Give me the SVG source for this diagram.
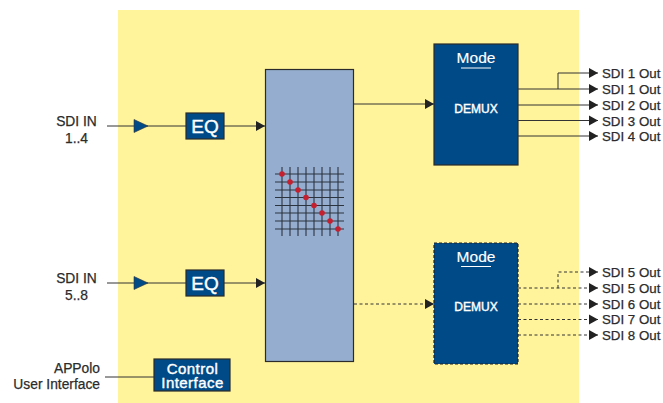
<svg xmlns="http://www.w3.org/2000/svg" width="663" height="403" viewBox="0 0 663 403">
<style>
text{font-family:"Liberation Sans",Arial,sans-serif}
.lbl{font-size:13.800px;fill:#2b2b2b;stroke:#2b2b2b;stroke-width:.25}
.out{font-size:13.300px;fill:#2b2b2b;stroke:#2b2b2b;stroke-width:.25}
.blue{fill:#004a87;stroke:#2b2b2b;stroke-width:1.200}
.w{fill:#fff;text-anchor:middle}
.wb{stroke:#fff;stroke-width:.4}
.wl{stroke:#fff;stroke-width:.15}
.c{fill:none;stroke:#333;stroke-width:1}
.d{fill:none;stroke:#333;stroke-width:1;stroke-dasharray:3 2.500}
.g{stroke:#2c3440;stroke-width:1.100;fill:none}
.dot{fill:#c4202f}
</style>
<defs>
<marker id="a" markerUnits="userSpaceOnUse" markerWidth="10" markerHeight="11" refX="9" refY="5.500" orient="auto"><path d="M0 0.500L9 5.500L0 10.500z" fill="#222"/></marker>
</defs>
<rect x="118" y="10" width="461" height="393" fill="#fff49b"/>
<g id="connectors">
<path class="c" d="M107 126H186"/>
<path class="c" d="M224 126H265" marker-end="url(#a)"/>
<path class="c" d="M107 283H186"/>
<path class="c" d="M224 283H265" marker-end="url(#a)"/>
<path class="c" d="M105 377H154"/>
<path class="c" d="M354 104H434" marker-end="url(#a)"/>
<path class="d" d="M354 304H434" marker-end="url(#a)"/>
<path class="c" d="M518 89H598" marker-end="url(#a)"/>
<path class="c" d="M558 89V73H598" marker-end="url(#a)"/>
<path class="c" d="M518 105H598" marker-end="url(#a)"/>
<path class="c" d="M518 120.500H598" marker-end="url(#a)"/>
<path class="c" d="M518 136H598" marker-end="url(#a)"/>
<path class="d" d="M518 288H598" marker-end="url(#a)"/>
<path class="d" d="M558 288V272H598" marker-end="url(#a)"/>
<path class="d" d="M518 304H598" marker-end="url(#a)"/>
<path class="d" d="M518 319.500H598" marker-end="url(#a)"/>
<path class="d" d="M518 335H598" marker-end="url(#a)"/>
</g>
<g id="in1"><text class="lbl" x="76.500" y="126" text-anchor="middle">SDI IN</text><text class="lbl" x="76.500" y="143" text-anchor="middle">1..4</text></g>
<g id="in2"><text class="lbl" x="76.500" y="283" text-anchor="middle">SDI IN</text><text class="lbl" x="76.500" y="300" text-anchor="middle">5..8</text></g>
<g id="ui"><text class="lbl" x="100" y="373" text-anchor="end">APPolo</text><text class="lbl" x="100" y="389" text-anchor="end">User Interface</text></g>
<g id="amp1"><path d="M134 119.500L148 126L134 132.500z" fill="#004a87" stroke="#333" stroke-width=".6"/></g>
<g id="amp2"><path d="M134 276.500L148 283L134 289.500z" fill="#004a87" stroke="#333" stroke-width=".6"/></g>
<g id="eq1"><rect class="blue" x="186" y="113" width="38" height="26"/><text class="w wb" x="205" y="133" font-size="19">EQ</text></g>
<g id="eq2"><rect class="blue" x="186" y="270" width="38" height="26"/><text class="w wb" x="205" y="290" font-size="19">EQ</text></g>
<g id="control"><rect class="blue" x="154" y="359" width="76" height="32"/><text class="w wb" font-size="15" letter-spacing=".45"><tspan x="192.500" y="373.500">Control</tspan><tspan x="192.500" y="388">Interface</tspan></text></g>
<g id="matrix">
<rect x="265.500" y="69.500" width="88" height="292" fill="#95aecf" stroke="#2b2b2b" stroke-width="1.200"/>
<path class="g" d="M275 174H344M275 182H344M275 190H344M275 197.500H344M275 205.500H344M275 213H344M275 221H344M275 229H344M282 167V236M290 167V236M298 167V236M306 167V236M314 167V236M322 167V236M330 167V236M338 167V236"/>
<circle class="dot" cx="282" cy="174" r="2.800"/><circle class="dot" cx="290" cy="182" r="2.800"/><circle class="dot" cx="298" cy="190" r="2.800"/><circle class="dot" cx="306" cy="197.500" r="2.800"/><circle class="dot" cx="314" cy="205.500" r="2.800"/><circle class="dot" cx="322" cy="213" r="2.800"/><circle class="dot" cx="330" cy="221" r="2.800"/><circle class="dot" cx="338" cy="229" r="2.800"/>
</g>
<g id="demux1"><rect class="blue" x="434" y="44" width="84" height="121"/><text class="w wl" x="476" y="63" font-size="15.500">Mode</text><path d="M461 68H491" stroke="#fff" stroke-width="1"/><text class="w wb" x="476" y="113" font-size="12">DEMUX</text></g>
<g id="demux2"><rect x="434" y="243" width="84" height="121" fill="#004a87" stroke="#222" stroke-width="1.200" stroke-dasharray="3 2"/><text class="w wl" x="476" y="262" font-size="15.500">Mode</text><path d="M461 266.500H491" stroke="#fff" stroke-width="1"/><text class="w wb" x="476" y="311" font-size="12">DEMUX</text></g>
<g id="outs">
<text class="out" x="602" y="78">SDI 1 Out</text><text class="out" x="602" y="94">SDI 1 Out</text><text class="out" x="602" y="110">SDI 2 Out</text><text class="out" x="602" y="125.500">SDI 3 Out</text><text class="out" x="602" y="141">SDI 4 Out</text>
<text class="out" x="602" y="277">SDI 5 Out</text><text class="out" x="602" y="293">SDI 5 Out</text><text class="out" x="602" y="309">SDI 6 Out</text><text class="out" x="602" y="324">SDI 7 Out</text><text class="out" x="602" y="340">SDI 8 Out</text>
</g>
</svg>
